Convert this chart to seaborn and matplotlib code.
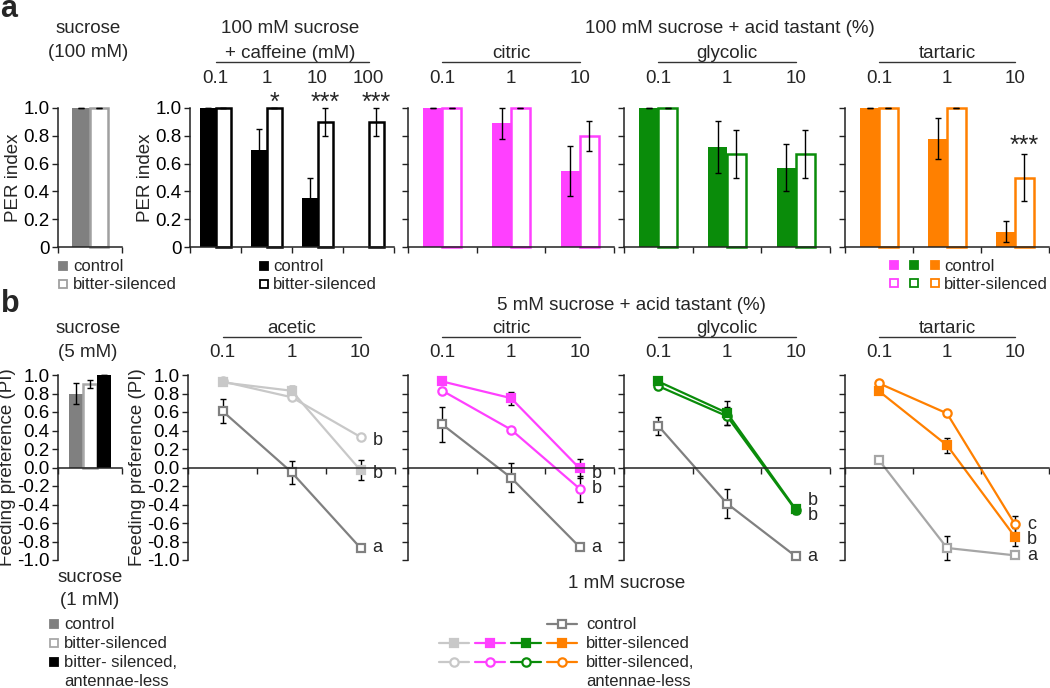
import numpy as np
import pandas as pd
import matplotlib
matplotlib.use("Agg")
import matplotlib.pyplot as plt
import seaborn as sns
from matplotlib.lines import Line2D
from matplotlib.transforms import blended_transform_factory as btf

# ---------------- data ----------------
groups_a = ["control", "bitter-silenced"]

suc100_ctrl = [1.0]
suc100_ctrl_err = [0.0]
suc100_bit = [1.0]
suc100_bit_err = [0.0]

caff_doses = ["0.1", "1", "10", "100"]
caff_ctrl = [1.0, 0.70, 0.35, 0.0]
caff_ctrl_err = [0.0, 0.15, 0.15, np.nan]
caff_bit = [1.0, 1.0, 0.90, 0.90]
caff_bit_err = [0.0, 0.0, 0.10, 0.10]
caff_stars = ["", "*", "***", "***"]

acid_doses = ["0.1", "1", "10"]
citric_ctrl = [1.0, 0.89, 0.55]
citric_ctrl_err = [0.0, 0.11, 0.18]
citric_bit = [1.0, 1.0, 0.80]
citric_bit_err = [0.0, 0.0, 0.11]
glycolic_ctrl = [1.0, 0.72, 0.57]
glycolic_ctrl_err = [0.0, 0.19, 0.17]
glycolic_bit = [1.0, 0.67, 0.67]
glycolic_bit_err = [0.0, 0.17, 0.17]
tartaric_ctrl = [1.0, 0.78, 0.11]
tartaric_ctrl_err = [0.0, 0.15, 0.075]
tartaric_bit = [1.0, 1.0, 0.50]
tartaric_bit_err = [0.0, 0.0, 0.17]
tartaric_stars = ["", "", "***"]

groups_b = ["control", "bitter-silenced", "bitter- silenced, antennae-less"]
suc5_vals = [0.80, 0.90, 1.0]
suc5_err = [0.11, 0.045, 0.0]

acetic_ctrl = [0.61, -0.05, -0.87]
acetic_ctrl_err = [0.13, 0.125, np.nan]
acetic_bit = [0.92, 0.83, -0.03]
acetic_bit_err = [0.02, 0.05, 0.11]
acetic_ant = [0.93, 0.76, 0.33]
acetic_ant_err = [np.nan, np.nan, np.nan]
acetic_letters = [("b", 0.29), ("b", -0.06), ("a", -0.87)]

citricB_ctrl = [0.465, -0.11, -0.86]
citricB_ctrl_err = [0.185, 0.16, np.nan]
citricB_bit = [0.93, 0.75, -0.01]
citricB_bit_err = [np.nan, 0.07, 0.10]
citricB_ant = [0.83, 0.41, -0.23]
citricB_ant_err = [np.nan, np.nan, 0.14]
citricB_letters = [("b", -0.06), ("b", -0.23), ("a", -0.87)]

glycolicB_ctrl = [0.45, -0.39, -0.96]
glycolicB_ctrl_err = [0.095, 0.155, np.nan]
glycolicB_bit = [0.93, 0.59, -0.45]
glycolicB_bit_err = [np.nan, 0.13, 0.05]
glycolicB_ant = [0.88, 0.555, -0.46]
glycolicB_ant_err = [np.nan, 0.10, np.nan]
glycolicB_letters = [("b", -0.355), ("b", -0.52), ("a", -0.96)]

tartaricB_ctrl = [0.08, -0.87, -0.95]
tartaricB_ctrl_err = [np.nan, 0.125, np.nan]
tartaricB_bit = [0.825, 0.24, -0.75]
tartaricB_bit_err = [np.nan, 0.08, 0.10]
tartaricB_ant = [0.91, 0.585, -0.615]
tartaricB_ant_err = [np.nan, np.nan, 0.09]
tartaricB_letters = [("c", -0.62), ("b", -0.78), ("a", -0.955)]

# ---------------- colours / fonts ----------------
GRAY = "#808080"
LGRAY = "#c8c8c8"
MAG = "#ff40ff"
GRN = "#0a8c0a"
ORG = "#ff8000"
FS = 13.5      # titles / axis labels
FS_NUM = 13.5  # numeric tick labels
FS_LEG = 12    # legend text
FS_LET = 13    # significance letters

sns.set_style("ticks")
plt.rcParams["font.family"] = ["Liberation Sans", "DejaVu Sans"]
plt.rcParams["font.size"] = FS
plt.rcParams["axes.linewidth"] = 1.1
plt.rcParams["axes.edgecolor"] = "#222222"

W, H = 1050, 688
fig = plt.figure(figsize=(W / 100, H / 100), dpi=100)


def fx(x):
    return x / W


def fy(y):
    return 1 - y / H


def add_axes(l, t, r, b):
    return fig.add_axes([l / W, 1 - b / H, (r - l) / W, (b - t) / H])


def ftext(x, y, s, ha="center", **kw):
    fig.text(fx(x), fy(y), s, ha=ha, va="baseline", fontsize=kw.pop("fontsize", FS), **kw)


def style_axes(ax, n, ylo, yhi, yticks, ylabels, ylabel):
    ax.set_xlim(-0.5, n - 0.5)
    ax.set_ylim(ylo, yhi)
    ax.set_xticks(np.arange(n + 1) - 0.5)
    ax.set_xticklabels([])
    ax.set_yticks(yticks)
    ax.set_yticklabels(ylabels, fontsize=FS_NUM)
    ax.set_xlabel("")
    ax.set_ylabel(ylabel, fontsize=FS, labelpad=1)
    for s in ["top", "right"]:
        ax.spines[s].set_visible(False)
    ax.tick_params(direction="out", length=4, width=1, pad=2, colors="#222222",
                   labelcolor="black")
    ax.patch.set_alpha(0)


def cat_labels(ax, labels, y_lab, y_line=None, title=None, y_title=None):
    tr = btf(ax.transData, fig.transFigure)
    for i, lab in enumerate(labels):
        ax.text(i, fy(y_lab), lab, transform=tr, ha="center", va="baseline", fontsize=FS_NUM)
    if y_line is not None:
        ax.plot([0, len(labels) - 1], [fy(y_line)] * 2, transform=tr, color="#333333", lw=1,
                clip_on=False)
    if title is not None:
        ax.text((len(labels) - 1) / 2, fy(y_title), title, transform=tr, ha="center",
                va="baseline", fontsize=FS)


def bar_panel(ax, cats, ctrl, ctrl_err, bit, bit_err, color, bit_edge, width):
    n = len(cats)
    df = pd.DataFrame({"dose": cats * 2,
                       "group": [groups_a[0]] * n + [groups_a[1]] * n,
                       "val": list(ctrl) + list(bit)})
    sns.barplot(data=df, x="dose", y="val", hue="group", order=cats, hue_order=groups_a,
                palette={groups_a[0]: color, groups_a[1]: "white"}, width=width,
                errorbar=None, legend=False, saturation=1, ax=ax)
    c_ctrl, c_bit = ax.containers[0], ax.containers[1]
    for p in c_ctrl:
        p.set_facecolor(color)
        p.set_edgecolor(color)
        p.set_linewidth(0)
        p.set_clip_on(False)
    for p in c_bit:
        p.set_facecolor("white")
        p.set_edgecolor(bit_edge)
        p.set_linewidth(1.8)
        p.set_clip_on(False)
    for cont, vals, errs in [(c_ctrl, ctrl, ctrl_err), (c_bit, bit, bit_err)]:
        for p, v, e in zip(cont, vals, errs):
            if np.isnan(e):
                continue
            xc = p.get_x() + p.get_width() / 2
            ax.errorbar([xc], [v], yerr=[e], fmt="none", ecolor="black", elinewidth=1,
                        capsize=2.5, capthick=1, zorder=5, clip_on=False)
    return c_bit


def stars(ax, cont, marks, y_center):
    tr = btf(ax.transData, fig.transFigure)
    for p, m in zip(cont, marks):
        if m:
            ax.text(p.get_x() + p.get_width() / 2, fy(y_center + 14.5), m, transform=tr,
                    ha="center", va="baseline", fontsize=18)


# ================= panel a =================
yt_a = np.arange(0, 1.01, 0.2)
yl_a = ["0", "0.2", "0.4", "0.6", "0.8", "1.0"]
TOP_A, BOT_A = 108, 247

axA1 = add_axes(58, TOP_A, 122, BOT_A)
bar_panel(axA1, ["suc"], suc100_ctrl, suc100_ctrl_err, suc100_bit, suc100_bit_err,
          GRAY, "#a0a0a0", 0.56)
style_axes(axA1, 1, 0, 1.0, yt_a, yl_a, "PER index")

axA2 = add_axes(190, TOP_A, 394, BOT_A)
cb = bar_panel(axA2, caff_doses, caff_ctrl, caff_ctrl_err, caff_bit, caff_bit_err,
               "black", "black", 0.6)
style_axes(axA2, 4, 0, 1.0, yt_a, yl_a, "PER index")
cat_labels(axA2, caff_doses, 83, 62)
stars(axA2, cb, caff_stars, 95)

acid_specs_a = [
    (408, 614, citric_ctrl, citric_ctrl_err, citric_bit, citric_bit_err, MAG, "citric"),
    (624, 830, glycolic_ctrl, glycolic_ctrl_err, glycolic_bit, glycolic_bit_err, GRN, "glycolic"),
    (845, 1049, tartaric_ctrl, tartaric_ctrl_err, tartaric_bit, tartaric_bit_err, ORG, "tartaric"),
]
for l, r, c, ce, b, be, col, name in acid_specs_a:
    ax = add_axes(l, TOP_A, r, BOT_A)
    cb = bar_panel(ax, acid_doses, c, ce, b, be, col, col, 0.55)
    style_axes(ax, 3, 0, 1.0, yt_a, [""] * 6, "")
    cat_labels(ax, acid_doses, 83, 62, name, 58)
    if name == "tartaric":
        stars(ax, cb, tartaric_stars, 138)

ftext(9, 17, "a", ha="center", fontsize=22, weight="bold")
ftext(88, 33, "sucrose")
ftext(88, 57, "(100 mM)")
ftext(290, 33, "100 mM sucrose")
ftext(290, 58, "+ caffeine (mM)")
ftext(730, 33, "100 mM sucrose + acid tastant (%)")


def sq(x, y, fc, ec, ms=5.6, mew=1.3, marker="s"):
    fig.add_artist(Line2D([fx(x)], [fy(y)], transform=fig.transFigure, marker=marker,
                          markersize=ms, markerfacecolor=fc, markeredgecolor=ec,
                          markeredgewidth=mew, linestyle="none"))


# legends panel a
sq(63, 266, GRAY, GRAY)
sq(63, 284, "white", "#a0a0a0")
ftext(73, 271, "control", ha="left", fontsize=FS_LEG)
ftext(73, 289, "bitter-silenced", ha="left", fontsize=FS_LEG)
sq(264, 266, "black", "black")
sq(264, 284, "white", "black")
ftext(273, 271, "control", ha="left", fontsize=FS_LEG)
ftext(273, 289, "bitter-silenced", ha="left", fontsize=FS_LEG)
for xx, col in [(894, MAG), (914, GRN), (935, ORG)]:
    sq(xx, 265, col, col)
    sq(xx, 283, "white", col)
ftext(944, 271, "control", ha="left", fontsize=FS_LEG)
ftext(944, 289, "bitter-silenced", ha="left", fontsize=FS_LEG)

# ================= panel b =================
TOP_B, BOT_B = 375, 560
yt_b = np.round(np.arange(-1.0, 1.01, 0.2), 1)
yl_b = ["%.1f" % v if abs(v) > 1e-9 else "0.0" for v in yt_b]

axB1 = add_axes(58, TOP_B, 122, BOT_B)
dfb = pd.DataFrame({"x": ["suc"] * 3, "group": groups_b, "val": suc5_vals})
sns.barplot(data=dfb, x="x", y="val", hue="group", hue_order=groups_b,
            palette={groups_b[0]: GRAY, groups_b[1]: "white", groups_b[2]: "black"},
            width=0.66, errorbar=None, legend=False, saturation=1, ax=axB1)
for cont, ec, lw in zip(axB1.containers, [GRAY, "#a8a8a8", "black"], [0, 1.8, 0]):
    for p in cont:
        p.set_edgecolor(ec)
        p.set_linewidth(lw)
        p.set_clip_on(False)
for cont, v, e in zip(axB1.containers, suc5_vals, suc5_err):
    p = cont[0]
    axB1.errorbar([p.get_x() + p.get_width() / 2], [v], yerr=[e], fmt="none", ecolor="black",
                  elinewidth=1, capsize=2.5, capthick=1, zorder=5, clip_on=False)
style_axes(axB1, 1, -1.0, 1.0, yt_b, yl_b, "Feeding preference (PI)")
axB1.spines["bottom"].set_position(("data", 0))


def line_panel(ax, ctrl, ctrl_err, bit, bit_err, ant, ant_err, color, ctrl_color, letters, cat_px):
    xs = [0, 1, 2]
    series = [
        (ctrl, ctrl_err, "s", "white", ctrl_color, 6.3),
        (ant, ant_err, "o", "white", color, 6.0),
        (bit, bit_err, "s", color, color, 6.3),
    ]
    for k, (vals, errs, mk, mfc, col, ms) in enumerate(series):
        df = pd.DataFrame({"dose": xs, "pi": vals})
        ax.errorbar(xs, vals, yerr=errs, fmt="none", ecolor="black", elinewidth=1,
                    capsize=2.5, capthick=1, zorder=1.5 + k * 0.1, clip_on=False)
        sns.lineplot(data=df, x="dose", y="pi", color=col, marker=mk, markersize=ms,
                     markerfacecolor=mfc, markeredgecolor=col, markeredgewidth=1.6,
                     linewidth=1.6, errorbar=None, ax=ax, zorder=2 + k * 0.1, clip_on=False)
    for lab, yv in letters:
        ax.text(2 + 17 / cat_px, yv, lab, ha="center", va="center", fontsize=FS_LET)


line_specs = [
    (188, 395, acetic_ctrl, acetic_ctrl_err, acetic_bit, acetic_bit_err, acetic_ant,
     acetic_ant_err, LGRAY, GRAY, acetic_letters, "acetic", True),
    (408, 614, citricB_ctrl, citricB_ctrl_err, citricB_bit, citricB_bit_err, citricB_ant,
     citricB_ant_err, MAG, GRAY, citricB_letters, "citric", False),
    (624, 830, glycolicB_ctrl, glycolicB_ctrl_err, glycolicB_bit, glycolicB_bit_err,
     glycolicB_ant, glycolicB_ant_err, GRN, GRAY, glycolicB_letters, "glycolic", False),
    (845, 1049, tartaricB_ctrl, tartaricB_ctrl_err, tartaricB_bit, tartaricB_bit_err,
     tartaricB_ant, tartaricB_ant_err, ORG, "#a6a6a6", tartaricB_letters, "tartaric", False),
]
for l, r, c, ce, b, be, a_, ae, col, ccol, lets, name, lab in line_specs:
    ax = add_axes(l, TOP_B, r, BOT_B)
    line_panel(ax, c, ce, b, be, a_, ae, col, ccol, lets, (r - l) / 3)
    style_axes(ax, 3, -1.0, 1.0, yt_b, yl_b if lab else [""] * len(yt_b),
               "Feeding preference (PI)" if lab else "")
    ax.spines["bottom"].set_position(("data", 0))
    cat_labels(ax, acid_doses, 357, 337, name, 333)

ftext(10, 312, "b", ha="center", fontsize=22, weight="bold")
ftext(88, 333, "sucrose")
ftext(88, 357, "(5 mM)")
ftext(631, 310, "5 mM sucrose + acid tastant (%)")
ftext(90, 582, "sucrose")
ftext(90, 605, "(1 mM)")
ftext(627, 588, "1 mM sucrose")

# legend panel b left
sq(54, 624, GRAY, GRAY)
sq(54, 643, "white", "#a8a8a8")
sq(54, 662, "black", "black")
ftext(64, 629, "control", ha="left", fontsize=FS_LEG)
ftext(64, 648, "bitter-silenced", ha="left", fontsize=FS_LEG)
ftext(64, 667, "bitter- silenced,", ha="left", fontsize=FS_LEG)
ftext(64, 686, "antennae-less", ha="left", fontsize=FS_LEG)


def line_key(x, y, col, mk, mfc, ms):
    fig.add_artist(Line2D([fx(x - 15), fx(x + 15)], [fy(y), fy(y)], transform=fig.transFigure,
                          color=col, lw=1.6))
    sq(x, y, mfc, col, ms=ms, mew=1.6, marker=mk)


line_key(562, 624, GRAY, "s", "white", 6.3)
for xx, col in [(454, LGRAY), (490, MAG), (526, GRN), (562, ORG)]:
    line_key(xx, 643, col, "s", col, 6.3)
    line_key(xx, 662, col, "o", "white", 6.0)
ftext(586, 629, "control", ha="left", fontsize=FS_LEG)
ftext(586, 648, "bitter-silenced", ha="left", fontsize=FS_LEG)
ftext(586, 667, "bitter-silenced,", ha="left", fontsize=FS_LEG)
ftext(586, 686, "antennae-less", ha="left", fontsize=FS_LEG)

fig.savefig("out.png", dpi=100)
